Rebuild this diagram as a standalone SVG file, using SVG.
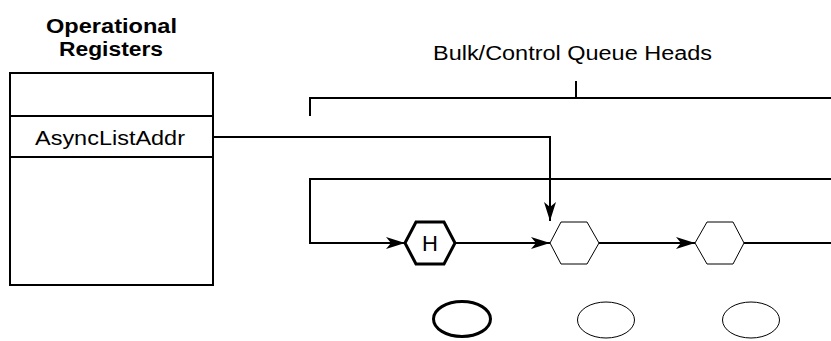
<svg xmlns="http://www.w3.org/2000/svg" width="831" height="341" viewBox="0 0 831 341">
<style>
text{font-family:"Liberation Sans",Arial,sans-serif;fill:#000}
.t{font-size:21px}
.b{font-weight:bold;font-size:20px}
.ln{fill:none;stroke:#000;stroke-width:2}
.hx{fill:#fff;stroke:#000;stroke-width:1}
</style>
<defs>
<marker id="ah" viewBox="0 0 19 12" refX="19" refY="6" markerWidth="19" markerHeight="12" markerUnits="userSpaceOnUse" orient="auto">
<path d="M0,0 L19,6 L0,12 L5,6 Z" fill="#000"/>
</marker>
</defs>
<g id="title">
<text class="b" x="46" y="33" textLength="131" lengthAdjust="spacingAndGlyphs">Operational</text>
<text class="b" x="59" y="55.5" textLength="104" lengthAdjust="spacingAndGlyphs">Registers</text>
</g>
<g id="registers">
<rect x="10" y="73" width="203" height="212" fill="#fff" stroke="#000" stroke-width="2"/>
<line x1="10" y1="116" x2="213" y2="116" stroke="#000" stroke-width="2"/>
<line x1="10" y1="157" x2="213" y2="157" stroke="#000" stroke-width="2"/>
<text class="t" x="35" y="145" textLength="150" lengthAdjust="spacingAndGlyphs">AsyncListAddr</text>
</g>
<g id="bracket-label">
<text class="t" x="433" y="60" style="font-size:20px" textLength="279" lengthAdjust="spacingAndGlyphs">Bulk/Control Queue Heads</text>
</g>
<g id="connectors">
<path class="ln" d="M310,116 V98 H831 M576,98 V81"/>
<path class="ln" d="M213,137 H550 V221" marker-end="url(#ah)"/>
<path class="ln" d="M831,179 H310 V243 H405" marker-end="url(#ah)"/>
<path class="ln" d="M455,243 H550" marker-end="url(#ah)"/>
<path class="ln" d="M599,243 H695" marker-end="url(#ah)"/>
<path class="ln" d="M744,243 H831"/>
</g>
<g id="qh-h">
<polygon points="405,243 416,222 444,222 455,243 444,264 416,264" fill="#fff" stroke="#000" stroke-width="3"/>
<text class="t" x="430" y="251" style="font-size:22px;text-anchor:middle">H</text>
</g>
<g id="qh-2">
<polygon class="hx" points="550,243 561,222 587,222 599,243 587,264 561,264"/>
</g>
<g id="qh-3">
<polygon class="hx" points="695,243 707,222 733,222 744,243 733,264 707,264"/>
</g>
<g id="el-1"><ellipse cx="462" cy="319" rx="28.5" ry="17.5" fill="#fff" stroke="#000" stroke-width="3"/></g>
<g id="el-2"><ellipse class="hx" cx="606" cy="320" rx="28.5" ry="18"/></g>
<g id="el-3"><ellipse class="hx" cx="751" cy="320" rx="28.5" ry="18"/></g>
</svg>
